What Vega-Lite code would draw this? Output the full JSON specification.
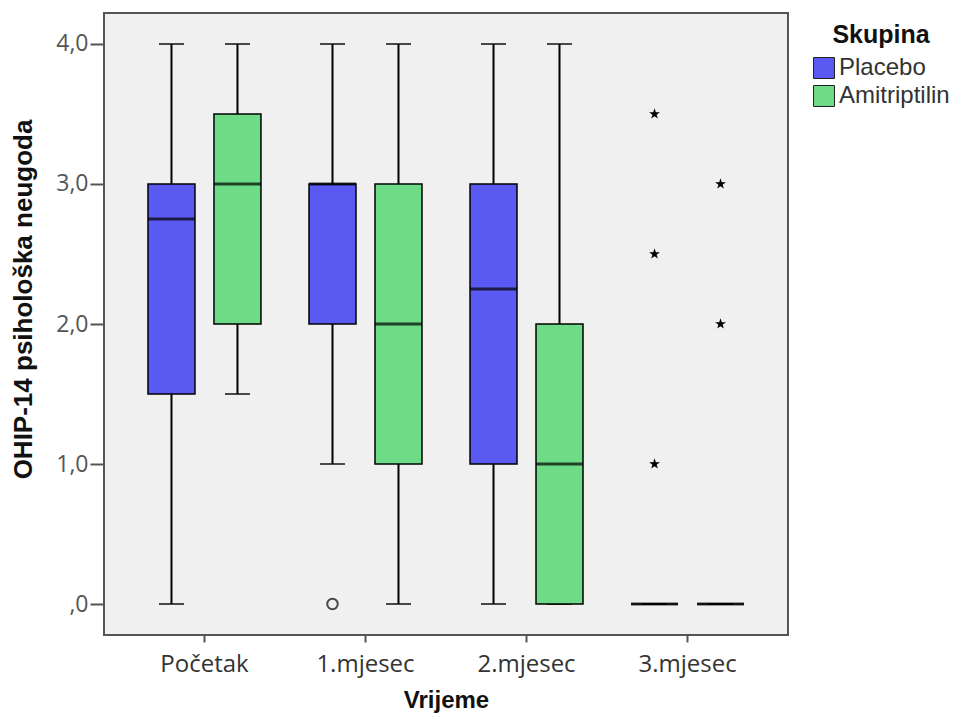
{
  "$schema": "https://vega.github.io/schema/vega-lite/v6.json",
  "width": 684,
  "height": 622,
  "autosize": {"type": "none"},
  "padding": {"left": 104, "top": 13, "right": 165, "bottom": 78},
  "background": "white",
  "config": {
    "view": {"fill": "#f0f0f0", "stroke": "#555555", "strokeWidth": 2},
    "font": "Liberation Sans"
  },
  "datasets": {
    "stats": [
      {"vrijeme": "Početak", "skupina": "Placebo", "lower": 0, "q1": 1.5, "median": 2.75, "q3": 3.0, "upper": 4.0},
      {"vrijeme": "Početak", "skupina": "Amitriptilin", "lower": 1.5, "q1": 2.0, "median": 3.0, "q3": 3.5, "upper": 4.0},
      {"vrijeme": "1.mjesec", "skupina": "Placebo", "lower": 1.0, "q1": 2.0, "median": 3.0, "q3": 3.0, "upper": 4.0},
      {"vrijeme": "1.mjesec", "skupina": "Amitriptilin", "lower": 0, "q1": 1.0, "median": 2.0, "q3": 3.0, "upper": 4.0},
      {"vrijeme": "2.mjesec", "skupina": "Placebo", "lower": 0, "q1": 1.0, "median": 2.25, "q3": 3.0, "upper": 4.0},
      {"vrijeme": "2.mjesec", "skupina": "Amitriptilin", "lower": 0, "q1": 0, "median": 1.0, "q3": 2.0, "upper": 4.0},
      {"vrijeme": "3.mjesec", "skupina": "Placebo", "lower": 0, "q1": 0, "median": 0, "q3": 0, "upper": 0},
      {"vrijeme": "3.mjesec", "skupina": "Amitriptilin", "lower": 0, "q1": 0, "median": 0, "q3": 0, "upper": 0}
    ],
    "outliers": [
      {"vrijeme": "1.mjesec", "skupina": "Placebo", "value": 0, "type": "outlier"},
      {"vrijeme": "3.mjesec", "skupina": "Placebo", "value": 3.5, "type": "extreme"},
      {"vrijeme": "3.mjesec", "skupina": "Placebo", "value": 2.5, "type": "extreme"},
      {"vrijeme": "3.mjesec", "skupina": "Placebo", "value": 1.0, "type": "extreme"},
      {"vrijeme": "3.mjesec", "skupina": "Amitriptilin", "value": 3.0, "type": "extreme"},
      {"vrijeme": "3.mjesec", "skupina": "Amitriptilin", "value": 2.0, "type": "extreme"}
    ]
  },
  "encoding": {
    "x": {
      "field": "vrijeme", "type": "nominal",
      "sort": ["Početak", "1.mjesec", "2.mjesec", "3.mjesec"],
      "scale": {"paddingInner": 0, "paddingOuter": 0.124},
      "title": "Vrijeme",
      "axis": {
        "labelAngle": 0, "labelFont": "Open Sans", "labelFontSize": 24, "labelColor": "#333333",
        "labelPadding": 10, "tickColor": "#555555", "tickSize": 7, "tickWidth": 2,
        "domain": false, "titleFontSize": 24, "titleFontWeight": "bold", "titleColor": "#111111",
        "titlePadding": 12
      }
    },
    "xOffset": {
      "field": "skupina", "type": "nominal",
      "sort": ["Placebo", "Amitriptilin"],
      "scale": {"paddingInner": 0.288, "paddingOuter": 0.364}
    }
  },
  "layer": [
    {
      "data": {"name": "stats"},
      "mark": {"type": "rule", "color": "black", "strokeWidth": 2},
      "encoding": {
        "y": {
          "field": "lower", "type": "quantitative",
          "scale": {"domain": [-0.2214, 4.2214], "nice": false, "zero": false},
          "title": "OHIP-14 psihološka neugoda",
          "axis": {
            "values": [0, 1, 2, 3, 4],
            "labelExpr": "datum.value == 0 ? ',0' : replace(format(datum.value, '.1f'), '.', ',')",
            "grid": false, "domain": false,
            "labelFont": "Open Sans", "labelFontSize": 23, "labelColor": "#555555",
            "labelPadding": 2, "tickColor": "#555555", "tickSize": 14, "tickWidth": 2,
            "titleFontSize": 26, "titleFontWeight": "bold", "titleColor": "#111111",
            "titlePadding": 19, "titleY": 286
          }
        },
        "y2": {"field": "upper"}
      }
    },
    {
      "data": {"name": "stats"},
      "mark": {"type": "tick", "color": "black", "size": 25, "thickness": 2},
      "encoding": {"y": {"field": "upper", "type": "quantitative"}}
    },
    {
      "data": {"name": "stats"},
      "mark": {"type": "tick", "color": "black", "size": 25, "thickness": 2},
      "encoding": {"y": {"field": "lower", "type": "quantitative"}}
    },
    {
      "data": {"name": "stats"},
      "mark": {"type": "bar", "stroke": "black", "strokeWidth": 1.5},
      "encoding": {
        "y": {"field": "q1", "type": "quantitative"},
        "y2": {"field": "q3"},
        "color": {
          "field": "skupina", "type": "nominal",
          "sort": ["Placebo", "Amitriptilin"],
          "scale": {"domain": ["Placebo", "Amitriptilin"], "range": ["#5a5af2", "#6edb86"]},
          "legend": {
            "title": "Skupina", "orient": "none", "legendX": 708, "legendY": 10,
            "titleFontSize": 25, "titleFontWeight": "bold", "titleColor": "#111111",
            "titleAnchor": "middle",
            "labelFont": "Liberation Sans", "labelFontSize": 24, "labelColor": "#333333",
            "symbolType": "square", "symbolSize": 440, "symbolStrokeColor": "#222222",
            "symbolStrokeWidth": 1, "symbolOpacity": 1, "rowPadding": 2, "labelOffset": 3,
            "titlePadding": 8
          }
        }
      }
    },
    {
      "data": {"name": "stats"},
      "mark": {"type": "tick", "color": "black", "size": 47, "thickness": 3},
      "encoding": {"y": {"field": "median", "type": "quantitative"}}
    },
    {
      "data": {"name": "outliers"},
      "transform": [{"filter": "datum.type == 'outlier'"}],
      "mark": {"type": "point", "shape": "circle", "filled": false, "color": "black", "strokeWidth": 2, "size": 110},
      "encoding": {"y": {"field": "value", "type": "quantitative"}}
    },
    {
      "data": {"name": "outliers"},
      "transform": [{"filter": "datum.type == 'extreme'"}],
      "mark": {
        "type": "point", "filled": true, "color": "black", "opacity": 1, "size": 130,
        "shape": "M0,-1L0.2245,-0.309L0.951,-0.309L0.363,0.118L0.588,0.809L0,0.382L-0.588,0.809L-0.363,0.118L-0.951,-0.309L-0.2245,-0.309Z"
      },
      "encoding": {"y": {"field": "value", "type": "quantitative"}}
    }
  ]
}
